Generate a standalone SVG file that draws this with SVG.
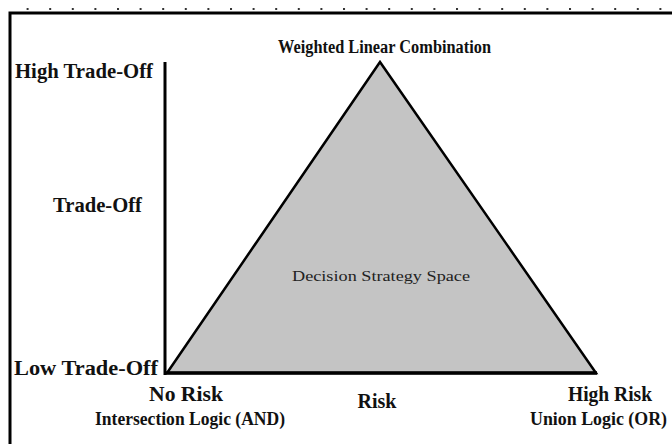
<svg xmlns="http://www.w3.org/2000/svg" width="672" height="444" viewBox="0 0 672 444">
<style>
.lbl{font-family:"Liberation Serif","Times New Roman",serif;font-weight:bold;font-size:20px;fill:#111;}
.top{font-size:18px;}
.bot{font-size:20px;}
.sub{font-size:18.5px;}
.inner{font-family:"Liberation Serif","Times New Roman",serif;font-size:15px;fill:#222;}
.frame{stroke:#000;stroke-width:3;fill:none;}
</style>
<defs>
<pattern id="dots" x="4" y="0" width="22.6" height="12" patternUnits="userSpaceOnUse">
<rect x="0" y="8" width="2" height="2" fill="#333"/>
</pattern>
</defs>
<rect width="672" height="444" fill="#fff"/>
<g id="frame">
<rect x="14" y="0" width="658" height="11" fill="url(#dots)"/>
<polyline class="frame" points="10,444 10,13 672,13"/>
</g>
<g id="connectors">
<line x1="165" y1="62" x2="165" y2="375" stroke="#000" stroke-width="3"/>
</g>
<g id="triangle">
<polygon points="167,373 380,62 596,373" fill="#c4c4c4" stroke="#000" stroke-width="2.5" stroke-linejoin="miter"/>
<line x1="165" y1="373" x2="597" y2="373" stroke="#000" stroke-width="3.5"/>
<text class="inner" x="381" y="281" text-anchor="middle" textLength="178" lengthAdjust="spacingAndGlyphs">Decision Strategy Space</text>
</g>
<g id="apex"><text class="lbl top" x="278" y="53" textLength="213" lengthAdjust="spacingAndGlyphs">Weighted Linear Combination</text></g>
<g id="high-tradeoff"><text class="lbl" x="15" y="78" textLength="138" lengthAdjust="spacingAndGlyphs">High Trade-Off</text></g>
<g id="tradeoff"><text class="lbl" x="53" y="212" textLength="89" lengthAdjust="spacingAndGlyphs">Trade-Off</text></g>
<g id="low-tradeoff"><text class="lbl" x="14" y="375" textLength="144" lengthAdjust="spacingAndGlyphs">Low Trade-Off</text></g>
<g id="no-risk">
<text class="lbl bot" x="149" y="401" textLength="74" lengthAdjust="spacingAndGlyphs">No Risk</text>
<text class="lbl sub" x="95" y="425" textLength="190" lengthAdjust="spacingAndGlyphs">Intersection Logic (AND)</text>
</g>
<g id="risk"><text class="lbl bot" x="377" y="408" text-anchor="middle">Risk</text></g>
<g id="high-risk">
<text class="lbl bot" x="568" y="401" textLength="84" lengthAdjust="spacingAndGlyphs">High Risk</text>
<text class="lbl sub" x="530" y="425" textLength="137" lengthAdjust="spacingAndGlyphs">Union Logic (OR)</text>
</g>
</svg>
